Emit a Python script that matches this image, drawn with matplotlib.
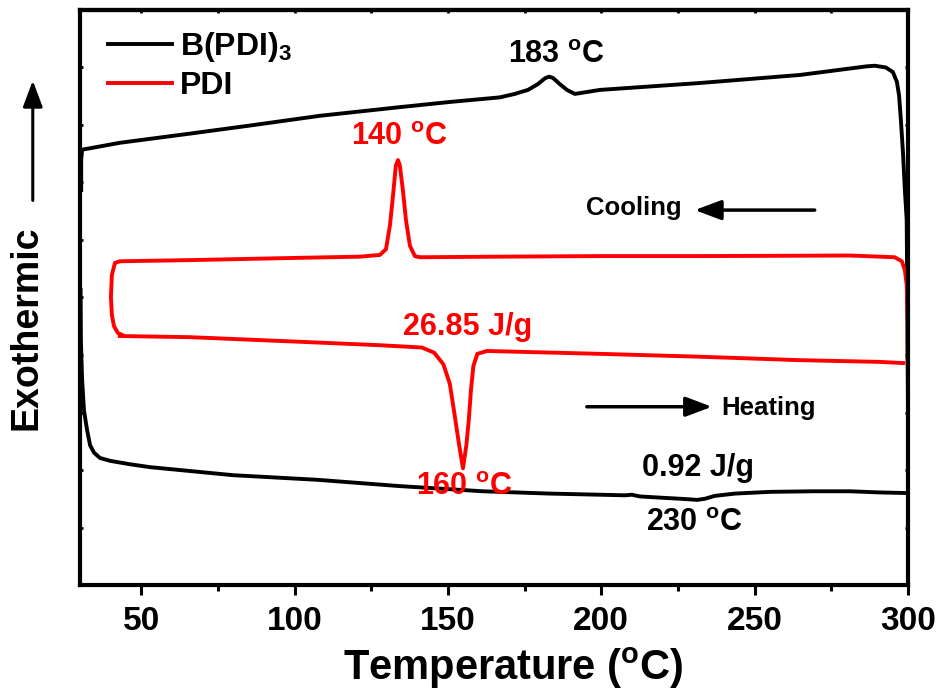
import numpy as np
import matplotlib
matplotlib.use('Agg')
import matplotlib.pyplot as plt

plt.rcParams['font.family'] = ['Liberation Sans', 'DejaVu Sans']
plt.rcParams['font.weight'] = 'bold'
plt.rcParams['mathtext.fontset'] = 'custom'
plt.rcParams['mathtext.rm'] = 'Liberation Sans:bold'
plt.rcParams['mathtext.it'] = 'Liberation Sans:bold'
plt.rcParams['mathtext.bf'] = 'Liberation Sans:bold'

# B(PDI)3 heating scan (lower black trace)
b_heat_T = [30.2, 30.3, 30.7, 31.3, 32.3, 33.3, 34.6, 36.5, 39.8, 46.3, 52.8, 79.9,
            107.3, 134.3, 161.4, 183.2, 199.6, 207.7, 210.0, 212.6, 222.4, 228.9,
            231.2, 233.8, 237.0, 243.6, 255.0, 269.0, 281.1, 290.8, 299.0]
b_heat_y = [5.13, 4.26, 3.57, 3.04, 2.70, 2.43, 2.30, 2.21, 2.16, 2.10, 2.05, 1.91,
            1.83, 1.72, 1.63, 1.59, 1.57, 1.56, 1.57, 1.54, 1.51, 1.49,
            1.48, 1.50, 1.55, 1.59, 1.62, 1.63, 1.63, 1.61, 1.60]

# B(PDI)3 cooling scan (upper black trace, 300 -> 30)
b_cool_T = [300.0, 300.0, 299.8, 299.6, 299.0, 298.4, 297.7, 297.1, 296.4, 295.1,
            292.8, 289.2, 286.6, 264.8, 232.2, 199.6, 191.4, 188.8, 186.5, 184.2,
            182.9, 181.6, 179.3, 176.1, 171.8, 166.9, 150.6, 134.3, 108.3, 85.4,
            65.9, 43.0, 30.7, 30.4, 30.4]
b_cool_y = [1.60, 3.22, 4.96, 6.35, 6.87, 7.51, 8.09, 8.52, 8.75, 8.92,
            9.00, 9.03, 9.02, 8.87, 8.73, 8.61, 8.54, 8.61, 8.71, 8.82,
            8.84, 8.81, 8.71, 8.61, 8.54, 8.48, 8.40, 8.31, 8.16, 7.99,
            7.85, 7.69, 7.57, 7.39, 6.87]

# PDI heating scan (lower red trace)
p_heat_T = [43.0, 65.9, 101.7, 127.8, 141.5, 145.5, 148.5, 150.6, 152.2, 153.6,
            154.9, 156.0, 156.8, 157.5, 158.3, 159.6, 162.7, 199.6, 232.2, 264.8,
            290.8, 298.4]
p_heat_y = [4.33, 4.31, 4.23, 4.17, 4.13, 4.04, 3.84, 3.50, 2.95, 2.45,
            2.03, 2.43, 2.87, 3.39, 3.81, 4.02, 4.07, 4.02, 3.97, 3.91,
            3.88, 3.86]

# PDI cooling scan (upper red trace, 300 -> 40)
p_cool_T = [299.9, 299.9, 299.6, 299.0, 298.0, 295.7, 281.1, 232.2, 199.6, 166.9,
            140.9, 139.2, 137.6, 136.3, 135.3, 134.3, 133.7, 133.0, 132.1, 131.1,
            129.8, 127.8, 121.3, 101.7, 65.9, 43.0, 41.4, 40.4, 40.1, 40.4,
            41.1, 42.4, 43.7]
p_cool_y = [3.86, 4.61, 5.22, 5.48, 5.63, 5.70, 5.73, 5.72, 5.72, 5.71,
            5.70, 5.72, 5.90, 6.35, 6.87, 7.30, 7.39, 7.29, 6.78, 6.26,
            5.84, 5.74, 5.71, 5.69, 5.65, 5.63, 5.60, 5.39, 5.01, 4.70,
            4.50, 4.38, 4.35]

fig = plt.figure(figsize=(9.43, 6.92), dpi=100)
ax = fig.add_axes([0.0848, 0.1546, 0.878, 0.831])

lw = 2.8
ax.plot(b_heat_T, b_heat_y, color='black', lw=lw, label='B(PDI)$_3$', solid_joinstyle='round')
ax.plot(b_cool_T, b_cool_y, color='black', lw=lw, solid_joinstyle='round')
ax.plot(p_heat_T, p_heat_y, color='red', lw=lw, label='PDI', solid_joinstyle='round')
ax.plot(p_cool_T, p_cool_y, color='red', lw=lw, solid_joinstyle='round')

ax.set_xlim(30, 300)
ax.set_ylim(0, 10)
ax.set_xticks([50, 100, 150, 200, 250, 300])
ax.set_xticks([75, 125, 175, 225, 275], minor=True)
ax.set_yticks(np.arange(1, 10))
ax.set_yticklabels([])
for s in ax.spines.values():
    s.set_linewidth(3)
ax.tick_params(axis='x', which='major', direction='out', length=7, width=2.2,
               labelsize=24, pad=8)
ax.tick_params(axis='x', which='minor', direction='out', length=4.5, width=2.2)
ax.tick_params(axis='y', direction='in', length=2.5, width=2, right=True)
for lab in ax.get_xticklabels():
    lab.set_fontweight('bold')

top = ax.secondary_xaxis('top')
top.set_xticks([50, 75, 100, 125, 150, 175, 200, 225, 250, 275])
top.tick_params(direction='in', length=2.5, width=2, labeltop=False)
top.spines['top'].set_linewidth(3)

ax.set_xlabel('Temperature ($^{o}$C)', fontsize=30, fontweight='bold')
ax.xaxis.set_label_coords(0.524, -0.105)
ax.set_ylabel('Exothermic', fontsize=27, fontweight='bold')
ax.yaxis.set_label_coords(-0.043, 0.447)
ax.annotate('', xy=(-0.057, 0.882), xytext=(-0.057, 0.664), xycoords='axes fraction',
            arrowprops=dict(arrowstyle='-|>,head_length=0.8,head_width=0.3',
                            lw=2.2, color='black', mutation_scale=20), annotation_clip=False)

ax.legend(loc='upper left', bbox_to_anchor=(0.03, 0.97), frameon=False, fontsize=23,
          handlelength=2.0, handletextpad=0.25, labelspacing=0.2, borderaxespad=0,
          borderpad=0.1)

ax.text(185.5, 9.22, '183 $^{o}$C', fontsize=22, ha='center', va='center', color='black')
ax.text(134.3, 7.79, '140 $^{o}$C', fontsize=22, ha='center', va='center', color='red')
ax.text(156.5, 4.49, '26.85 J/g', fontsize=22, ha='center', va='center', color='red')
ax.text(155.5, 1.70, '160 $^{o}$C', fontsize=22, ha='center', va='center', color='red')
ax.text(231.5, 2.03, '0.92 J/g', fontsize=22, ha='center', va='center', color='black')
ax.text(230.5, 1.08, '230 $^{o}$C', fontsize=22, ha='center', va='center', color='black')
ax.text(210.6, 6.56, 'Cooling', fontsize=18.5, ha='center', va='center', color='black')
ax.text(254.6, 3.08, 'Heating', fontsize=18.5, ha='center', va='center', color='black')

arrow = dict(arrowstyle='-|>,head_length=0.8,head_width=0.3', lw=2.5, color='black',
             mutation_scale=20, shrinkA=0, shrinkB=0)
ax.annotate('', xy=(230.5, 6.52), xytext=(269.6, 6.52), arrowprops=arrow)
ax.annotate('', xy=(236.1, 3.10), xytext=(195.3, 3.10), arrowprops=arrow)

fig.savefig('out.png', dpi=100)
